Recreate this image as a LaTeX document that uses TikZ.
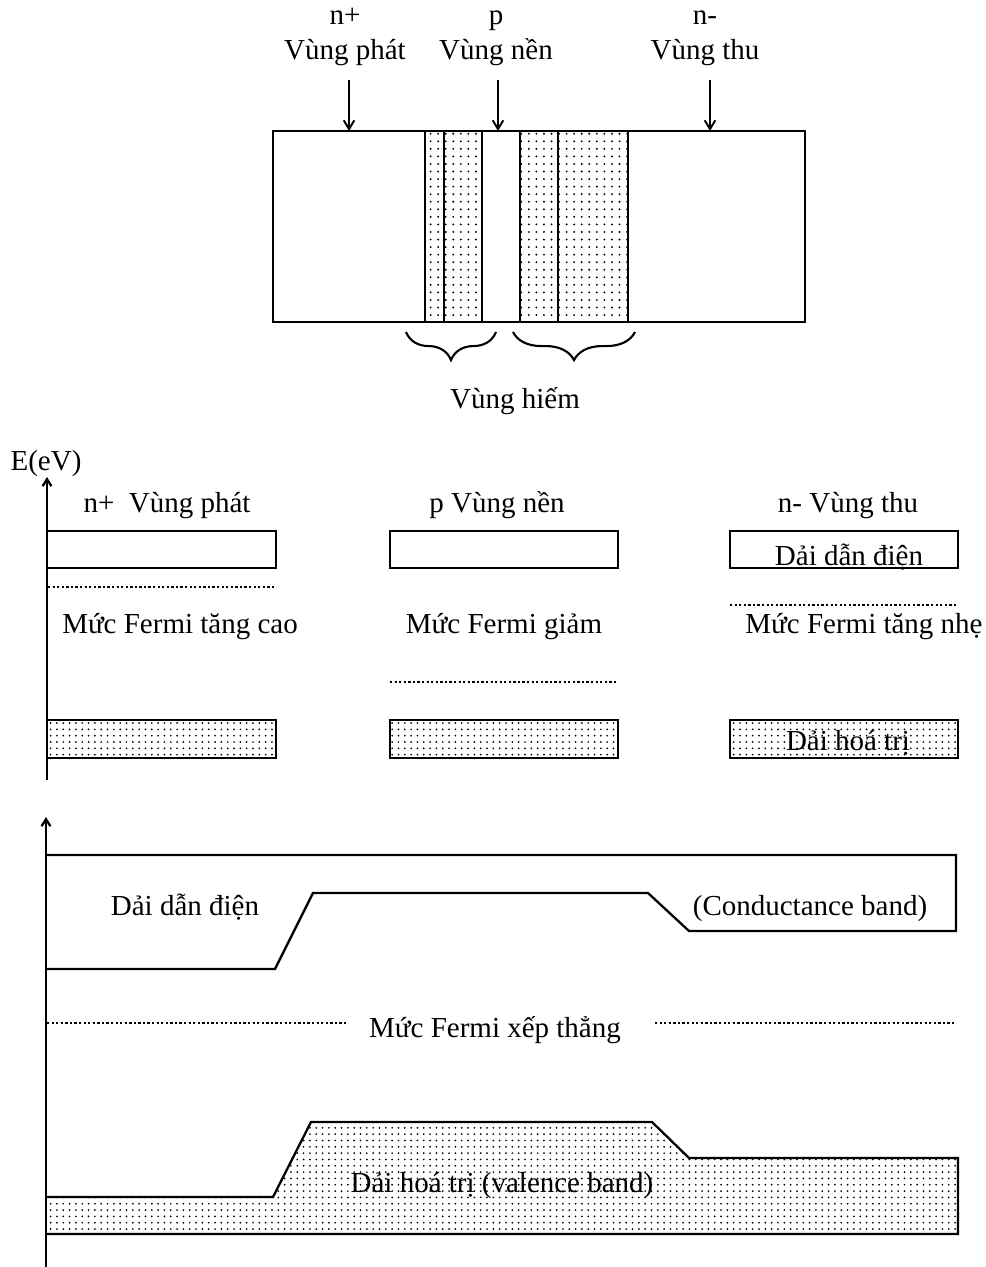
\documentclass[tikz,border=0pt]{standalone}
\usepackage{fontspec}
\setmainfont{Liberation Serif}
\usetikzlibrary{arrows.meta,patterns.meta,decorations.pathreplacing}
\tikzset{
  lbl/.style={font=\fontsize{16.5}{20}\selectfont, inner sep=0pt, anchor=base},
  box/.style={draw=black, line width=1.45pt},
  band/.style={draw=black, line width=1.3pt, line join=miter},
  dotfill/.style={pattern={Dots[distance=4.3pt, radius=0.6pt]}, pattern color=black},
  dotfillb/.style={pattern={Dots[distance=3.6pt, radius=0.55pt]}, pattern color=black},
  fermi/.style={draw=black, line width=1.5pt, dash pattern=on 1.3pt off 1.3pt},
  arr/.style={draw=black, line width=1.1pt, -{Straight Barb[length=5pt,width=6pt]}},
  axis/.style={draw=black, line width=1.3pt, -{Straight Barb[length=4pt,width=5pt]}},
  brc/.style={draw=black, line width=1.2pt, decorate, decoration={brace, mirror, amplitude=16pt}}
}
\begin{document}
\begin{tikzpicture}[x=0.02cm, y=-0.02cm]
\useasboundingbox (0,0) rectangle (986,1267);

% ---------- Top: structure ----------
\node[lbl] (np) at (345,25) {n+};
\node[lbl] (vphat) at (345,60) {Vùng phát};
\node[lbl] (pp) at (496,25) {p};
\node[lbl] (vnen) at (496,60) {Vùng nền};
\node[lbl] (nm) at (705,25) {n-};
\node[lbl] (vthu) at (705,60) {Vùng thu};

\coordinate (a1s) at (349,80);  \coordinate (a1e) at (349,131);
\coordinate (a2s) at (498,80);  \coordinate (a2e) at (498,131);
\coordinate (a3s) at (710,80);  \coordinate (a3e) at (710,131);
\draw[arr] (a1s) -- (a1e);
\draw[arr] (a2s) -- (a2e);
\draw[arr] (a3s) -- (a3e);

\draw[box, dotfill] (425,131) rectangle (444,322);
\draw[box, dotfill] (444,131) rectangle (482,322);
\draw[box, dotfill] (520,131) rectangle (558,322);
\draw[box, dotfill] (558,131) rectangle (628,322);
\draw[box] (273,131) rectangle (805,322);

\coordinate (b1s) at (406,332); \coordinate (b1e) at (496,332);
\coordinate (b2s) at (513,332); \coordinate (b2e) at (635,332);
\draw[brc] (b1s) -- (b1e);
\draw[brc] (b2s) -- (b2e);
\node[lbl] (hiem) at (515,408) {Vùng hiếm};

% ---------- Middle: separate band diagrams ----------
\node[lbl] (eev) at (46,470) {E(eV)};
\coordinate (ax1b) at (47,780); \coordinate (ax1t) at (47,477);
\draw[axis] (ax1b) -- (ax1t);

\node[lbl] (t1) at (167,512) {n+\ \ Vùng phát};
\node[lbl] (t2) at (497,512) {p Vùng nền};
\node[lbl] (t3) at (848,512) {n- Vùng thu};

\draw[box] (47,531) rectangle (276,568);
\draw[box] (390,531) rectangle (618,568);
\draw[box] (730,531) rectangle (958,568);
\node[lbl] (dd3) at (849,565) {Dải dẫn điện};

\draw[fermi] (48,587) -- (275,587);
\draw[fermi] (390,682) -- (618,682);
\draw[fermi] (730,605) -- (957,605);

\node[lbl] (f1) at (180,633) {Mức Fermi tăng cao};
\node[lbl] (f2) at (504,633) {Mức Fermi giảm};
\node[lbl] (f3) at (864,633) {Mức Fermi tăng nhẹ};

\draw[box, dotfillb] (47,720) rectangle (276,758);
\draw[box, dotfillb] (390,720) rectangle (618,758);
\draw[box, dotfillb] (730,720) rectangle (958,758);
\node[lbl] (ht3) at (848,750) {Dải hoá trị};

% ---------- Bottom: aligned band diagram ----------
\coordinate (ax2b) at (46,1267); \coordinate (ax2t) at (46,817);
\draw[axis] (ax2b) -- (ax2t);

\draw[band] (46,855) -- (956,855) -- (956,931) -- (689,931) -- (648,893)
  -- (313,893) -- (275,969) -- (46,969);
\node[lbl] (dd) at (185,915) {Dải dẫn điện};
\node[lbl] (cb) at (810,915) {(Conductance band)};

\node[lbl] (fx) at (495,1037) {Mức Fermi xếp thẳng};
\coordinate (fl1) at (47,1023); \coordinate (fl2) at (348,1023);
\coordinate (fr1) at (655,1023); \coordinate (fr2) at (956,1023);
\draw[fermi] (fl1) -- (fl2);
\draw[fermi] (fr1) -- (fr2);

\fill[dotfillb] (46,1197) -- (273,1197) -- (311,1122) -- (652,1122) -- (689,1158)
  -- (958,1158) -- (958,1234) -- (46,1234) -- cycle;
\draw[band] (46,1197) -- (273,1197) -- (311,1122) -- (652,1122) -- (689,1158)
  -- (958,1158) -- (958,1234) -- (46,1234);
\node[lbl] (vb) at (502,1192) {Dải hoá trị (valence band)};
\end{tikzpicture}
\end{document}
